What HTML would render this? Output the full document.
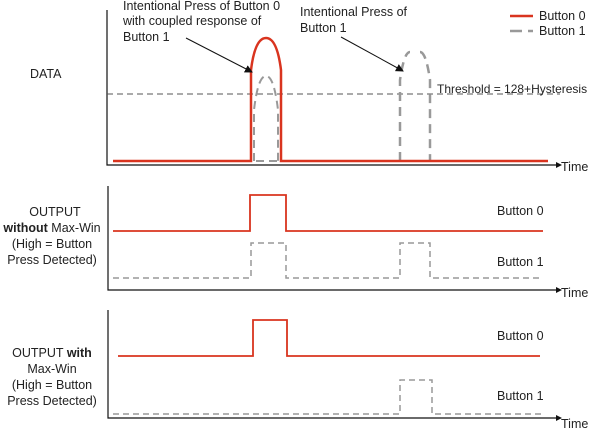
<!DOCTYPE html>
<html><head><meta charset="utf-8"><style>
body{margin:0;background:#fff;}
svg text{font-family:"Liberation Sans",sans-serif;font-size:12.5px;fill:#222;}
</style></head><body>
<svg width="600" height="429" viewBox="0 0 600 429" xmlns="http://www.w3.org/2000/svg">
<defs>
<marker id="ah" markerWidth="8" markerHeight="8" refX="7" refY="4" orient="auto" markerUnits="userSpaceOnUse"><path d="M0,0 L8,4 L0,8 z" fill="#111"/></marker>
</defs>
<g stroke="#111" stroke-width="1.2" fill="none">
<path d="M107,10 V165 H556"/>
<path d="M108,186 V290 H556"/>
<path d="M108,310 V418 H556"/>
</g>
<g fill="#111"><path d="M556,162 L562,165 L556,168z"/><path d="M556,287 L562,290 L556,293z"/><path d="M556,415 L562,418 L556,421z"/></g>
<text x="561" y="171">Time</text>
<text x="561" y="297">Time</text>
<text x="561" y="428">Time</text>
<line x1="107" y1="94" x2="560" y2="94" stroke="#555" stroke-width="1" stroke-dasharray="6,4"/>
<text x="437" y="93" style="font-size:12px">Threshold = 128+Hysteresis</text>
<path d="M113,161 H400 M430,161 H548" stroke="#999" stroke-width="2" stroke-dasharray="8,5" fill="none"/>
<path d="M254,161 V110 Q258,76 266,76 Q274,76 278,110 V161" stroke="#999" stroke-width="2" stroke-dasharray="8,5" fill="none"/>
<path d="M400,161 V80 Q404,52 410,52 M420,52 Q426,52 430,80 V161" stroke="#999" stroke-width="2.5" stroke-dasharray="9,6" fill="none"/>
<path d="M113,161 H251 V70 Q255,38 266,38 Q277,38 281,70 V161 H548" stroke="#d9341f" stroke-width="2.5" fill="none"/>
<line x1="186" y1="38" x2="252" y2="72" stroke="#111" stroke-width="1" marker-end="url(#ah)"/>
<line x1="341" y1="37" x2="403" y2="71" stroke="#111" stroke-width="1" marker-end="url(#ah)"/>
<text x="123" y="10">Intentional Press of Button 0</text>
<text x="123" y="25">with coupled response of</text>
<text x="123" y="41">Button 1</text>
<text x="300" y="16">Intentional Press of</text>
<text x="300" y="32">Button 1</text>
<line x1="510" y1="16" x2="533" y2="16" stroke="#d9341f" stroke-width="2.5"/>
<text x="539" y="20">Button 0</text>
<path d="M510,31 H522 M528,31 H533" stroke="#999" stroke-width="2.5"/>
<text x="539" y="35">Button 1</text>
<text x="30" y="78">DATA</text>
<path d="M113,231 H250 V195 H286 V231 H543" stroke="#d9341f" stroke-width="1.8" fill="none"/>
<path d="M113,278 H251 V243 H286 V278 H400 V243 H430 V278 H543" stroke="#999" stroke-width="1.5" stroke-dasharray="6,4" fill="none"/>
<text x="497" y="215">Button 0</text>
<text x="497" y="266">Button 1</text>
<path d="M118,356 H253 V320 H287 V356 H540" stroke="#d9341f" stroke-width="1.8" fill="none"/>
<path d="M113,414 H400 V380 H432 V414 H543" stroke="#999" stroke-width="1.5" stroke-dasharray="6,4" fill="none"/>
<text x="497" y="340">Button 0</text>
<text x="497" y="400">Button 1</text>
<g text-anchor="middle">
<text x="55" y="216">OUTPUT</text>
<text x="52" y="232"><tspan font-weight="bold">without</tspan> Max-Win</text>
<text x="52" y="248">(High = Button</text>
<text x="52" y="264">Press Detected)</text>
<text x="52" y="357">OUTPUT <tspan font-weight="bold">with</tspan></text>
<text x="52" y="373">Max-Win</text>
<text x="52" y="389">(High = Button</text>
<text x="52" y="405">Press Detected)</text>
</g>
</svg>
</body></html>
